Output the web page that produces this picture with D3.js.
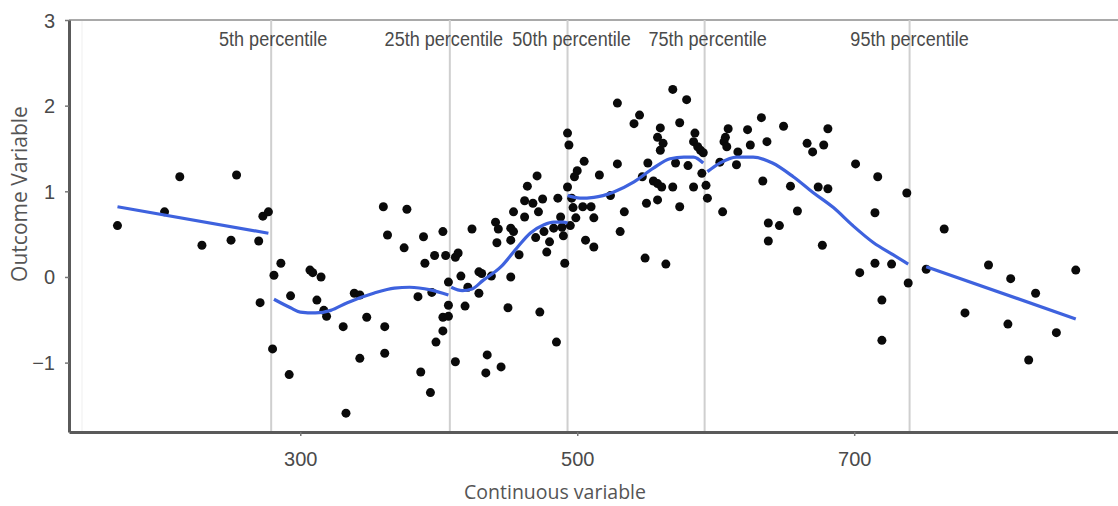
<!DOCTYPE html>
<html>
<head>
<meta charset="utf-8">
<script src="https://cdn.jsdelivr.net/npm/d3@7"></script>
<style>
  html, body { margin: 0; padding: 0; background: #fff; }
  svg { display: block; }
  .lbl { font-family: "Liberation Sans", Arial, sans-serif; fill: #4a4a4a; }
  .title { font-family: "Open Sans", sans-serif; fill: #555; }
</style>
</head>
<body>
<svg id="chart" width="1118" height="506"></svg>
<script>
// scatter points (x = continuous variable, y = outcome)
const pointX = [
  168, 202, 213, 229, 250, 254, 270, 273, 277, 271,
  281, 286, 280, 293, 292, 307, 309, 315, 312, 317, 319, 331, 339, 343, 343, 348, 333, 361, 361,
  360, 377, 363, 375, 385, 387, 390, 394, 395, 397, 398, 403, 403, 389, 403, 405, 407, 407, 407,
  412, 414, 416, 412, 419, 421, 424, 429, 431, 429, 435, 434, 438, 441, 442, 443, 445, 450,
  452, 454, 452, 452, 454, 458, 462, 462, 464, 468, 471, 472, 470, 473, 478, 485, 491,
  475, 486, 488, 476, 483, 489, 490, 480,
  493, 494, 505, 500, 498, 516, 529, 493, 496, 497, 504, 510, 524, 534, 499, 512, 495, 506, 512,
  531, 549, 529, 545, 541, 558, 560, 551, 547, 555, 558, 561, 550, 558, 569, 579, 574, 560, 562,
  585, 584, 587, 589, 591, 571, 580, 590, 569, 584, 574, 564,
  593, 594, 603, 605, 609, 607, 606, 608, 616, 615, 623, 625, 633, 637, 649, 634, 654, 659,
  638, 646, 638, 666, 670, 678, 681, 674, 681, 677, 701, 717, 738, 715, 704, 715, 727, 720, 720, 739,
  752, 765, 780, 797, 813, 811, 831, 826, 846, 860
];
const pointY = [
  0.60, 0.76, 1.17, 0.37, 0.43, 1.19, 0.42, 0.71, 0.76, -0.30,
  0.02, 0.16, -0.84, -0.22, -1.14, 0.08, 0.05, 0.00, -0.27, -0.39, -0.46, -0.58, -0.19, -0.21, -0.95, -0.47, -1.59, -0.58, -0.89,
  0.82, 0.79, 0.49, 0.34, -0.23, -1.11, 0.16, -1.35, -0.18, 0.25, -0.76, -0.63, -0.47, 0.47, 0.53, 0.25, -0.06, -0.33, -0.46,
  0.23, 0.28, 0.01, -0.99, -0.34, -0.12, 0.56, 0.06, 0.04, -0.19, -0.91, -1.12, 0.01, 0.64, 0.40, 0.56, -1.05, -0.36,
  0.57, 0.53, 0.43, 0.00, 0.76, 0.26, 0.70, 0.89, 1.06, 0.86, 1.18, 0.76, 0.46, -0.41, 0.29, -0.76, 0.16,
  0.91, 0.92, 0.70, 0.53, 0.57, 0.58, 0.48, 0.41,
  1.68, 1.54, 1.35, 1.24, 1.17, 1.19, 1.32, 1.05, 0.92, 0.81, 0.82, 0.82, 0.95, 0.76, 0.69, 0.69, 0.60, 0.43, 0.35,
  0.53, 0.22, 2.03, 1.89, 1.79, 1.63, 1.48, 1.33, 1.17, 1.12, 1.09, 1.05, 0.86, 0.90, 2.19, 2.07, 1.80, 1.74, 1.56,
  1.68, 1.58, 1.52, 1.48, 1.45, 1.33, 1.30, 1.21, 1.05, 1.05, 0.82, 0.15,
  1.07, 0.92, 1.34, 0.76, 1.73, 1.63, 1.58, 1.52, 1.46, 1.31, 1.72, 1.54, 1.86, 1.58, 1.76, 1.12, 1.06, 0.77,
  0.63, 0.60, 0.42, 1.56, 1.46, 1.54, 1.73, 1.05, 1.03, 0.37, 1.32, 1.17, 0.98, 0.75, 0.05, 0.16, 0.15, -0.27, -0.74, -0.07,
  0.09, 0.56, -0.42, 0.14, -0.02, -0.55, -0.19, -0.97, -0.65, 0.08
];

// percentile cut points
const cutNames = ['5th percentile', '25th percentile', '50th percentile', '75th percentile', '95th percentile'];
const cutValues = [279, 408, 493, 592, 740];

// piecewise smooth fit, one pair of arrays per segment
const fitX = [
  [168, 277],
  [281, 293, 300, 311, 322, 334, 353, 368, 379, 394, 407],
  [409, 417, 424, 432, 445, 457, 466, 476, 483, 490, 493],
  [493, 502, 512, 526, 541, 555, 567, 577, 584, 591],
  [594, 603, 615, 627, 641, 656, 670, 685, 699, 714, 728, 739],
  [752, 860]
];
const fitY = [
  [0.82, 0.51],
  [-0.26, -0.36, -0.41, -0.42, -0.39, -0.30, -0.19, -0.13, -0.12, -0.15, -0.21],
  [-0.12, -0.16, -0.14, -0.04, 0.12, 0.35, 0.51, 0.61, 0.64, 0.64, 0.63],
  [0.95, 0.92, 0.93, 0.99, 1.11, 1.27, 1.38, 1.40, 1.40, 1.33],
  [1.23, 1.33, 1.40, 1.40, 1.33, 1.17, 0.99, 0.81, 0.60, 0.40, 0.26, 0.15],
  [0.12, -0.49]
];

const xTicks = [300, 500, 700];
const yTicks = [-1, 0, 1, 2, 3];

const svg = d3.select('#chart');
const W = 1118;
const mLeft = 69, mTop = 20, mBottom = 432;

const x = d3.scaleLinear().domain([133, 890.5]).range([mLeft, W]);
const y = d3.scaleLinear().domain([-1.81, 3]).range([mBottom, mTop]);

// faint inner guide + top frame line
svg.append('line')
  .attr('x1', 82).attr('x2', 82).attr('y1', mTop).attr('y2', mBottom)
  .attr('stroke', '#efefef').attr('stroke-width', 1);
svg.append('line')
  .attr('x1', mLeft).attr('x2', W).attr('y1', mTop).attr('y2', mTop)
  .attr('stroke', '#a9a9a9').attr('stroke-width', 2);

// percentile lines
svg.selectAll('.cut').data(cutValues).enter()
  .append('line')
  .attr('class', 'cut')
  .attr('x1', d => x(d)).attr('x2', d => x(d))
  .attr('y1', mTop).attr('y2', mBottom)
  .attr('stroke', '#cfcfcf').attr('stroke-width', 2);

// labels sit roughly over their lines, nudged a bit so 25th/50th don't collide
const nudge = [2, -6, 4, 3, 0];
svg.selectAll('.cutlbl').data(cutValues).enter()
  .append('g')
  .attr('transform', (d, i) => `translate(${x(d) + nudge[i]},46) scale(0.86,1)`)
  .append('text')
  .attr('class', 'lbl')
  .attr('text-anchor', 'middle')
  .attr('font-size', 21)
  .text((d, i) => cutNames[i]);

// points
const pts = pointX.map((v, i) => [v, pointY[i]]);
svg.selectAll('.pt').data(pts).enter()
  .append('circle')
  .attr('class', 'pt')
  .attr('cx', d => x(d[0]))
  .attr('cy', d => y(d[1]))
  .attr('r', 4.5)
  .attr('fill', '#0a0a0a');

// smooth segments
const line = d3.line()
  .x(d => x(d[0]))
  .y(d => y(d[1]))
  .curve(d3.curveMonotoneX);
fitX.forEach((xs, k) => {
  svg.append('path')
    .datum(xs.map((v, i) => [v, fitY[k][i]]))
    .attr('d', line)
    .attr('fill', 'none')
    .attr('stroke', '#3e62de')
    .attr('stroke-width', 3.2);
});

// axes
const gx = svg.append('g')
  .attr('transform', `translate(0,${mBottom})`)
  .call(d3.axisBottom(x).tickValues(xTicks).tickSize(4).tickSizeOuter(0));
const gy = svg.append('g')
  .attr('transform', `translate(${mLeft},0)`)
  .call(d3.axisLeft(y).tickValues(yTicks).tickSize(4).tickSizeOuter(0)
    .tickFormat(d => d < 0 ? '\u2212' + Math.abs(d) : d));

[gx, gy].forEach(g => {
  g.select('.domain').attr('stroke', '#5a5a5a').attr('stroke-width', 3);
  g.selectAll('.tick line').attr('stroke', '#777').attr('stroke-width', 1.5);
  g.selectAll('.tick text')
    .attr('class', 'lbl')
    .attr('font-size', 20)
    .attr('fill', '#4a4a4a');
});
gx.selectAll('.tick text').attr('dy', 0).attr('y', 34);
gy.selectAll('.tick text').attr('x', -14).attr('dy', '0.35em');

// axis titles
svg.append('text')
  .attr('class', 'title')
  .attr('font-size', 19.5)
  .attr('x', 555).attr('y', 499)
  .attr('text-anchor', 'middle')
  .text('Continuous variable');
svg.append('text')
  .attr('class', 'title')
  .attr('font-size', 21)
  .attr('transform', 'translate(27,194) rotate(-90)')
  .attr('text-anchor', 'middle')
  .text('Outcome Variable');
</script>
</body>
</html>
